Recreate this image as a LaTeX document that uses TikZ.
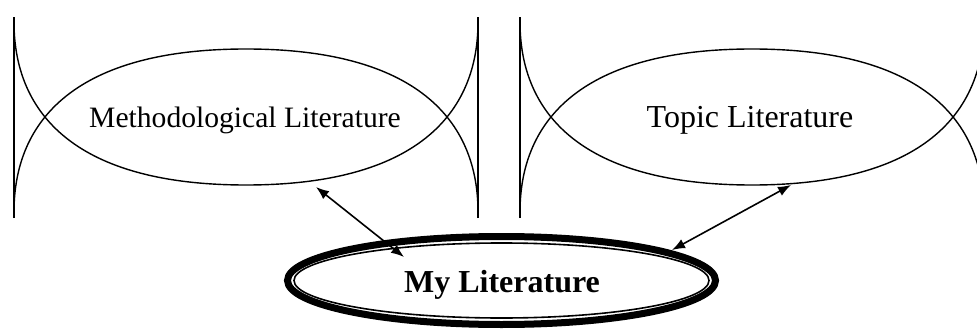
\documentclass[tikz,border=0pt]{standalone}
\usepackage{fontspec}
\setmainfont{Liberation Serif}
\usetikzlibrary{arrows.meta}

\begin{document}
\begin{tikzpicture}[x=0.5pt,y=0.5pt,
    lens/.style={line width=0.7pt},
    link/.style={{Latex[length=6.5pt,width=5pt]}-{Latex[length=6.5pt,width=5pt]}, line width=0.8pt},
    littext/.style={font=\fontsize{14.8}{18}\selectfont, anchor=base}]
    \clip (0,0) rectangle (977,332);

    % 1. Methodological Literature: two bars and two crossing arcs
    \draw[lens] (14,114) -- (14,315);
    \draw[lens] (478,114) -- (478,315);
    \draw[lens] (14,120) .. controls (14,212) and (76,283) .. (246,283)
                         .. controls (416,283) and (478,212) .. (478,120);
    \draw[lens] (14,310) .. controls (14,218) and (76,147) .. (246,147)
                         .. controls (416,147) and (478,218) .. (478,310);
    \node[littext] (method) at (245,204) {Methodological Literature};

    % 2. Topic Literature: same shape, cut by the right edge
    \draw[lens] (520,114) -- (520,315);
    \draw[lens] (984,114) -- (984,315);
    \draw[lens] (520,120) .. controls (520,212) and (582,283) .. (752,283)
                          .. controls (922,283) and (984,212) .. (984,120);
    \draw[lens] (520,310) .. controls (520,218) and (582,147) .. (752,147)
                          .. controls (922,147) and (984,218) .. (984,310);
    \node[littext, font=\fontsize{16}{19}\selectfont] (topic) at (750,204) {Topic Literature};

    % 3. My Literature: thick ring with a thin inner line
    \coordinate (ring) at (501.5,51.5);
    \draw[line width=3.5pt] (ring) ellipse [x radius=214, y radius=44];
    \draw[line width=0.8pt] (ring) ellipse [x radius=207.5, y radius=37.5];
    \node[font=\bfseries\fontsize{16}{19}\selectfont, anchor=base] (mine) at (502,40) {My Literature};

    % 4. Links
    \coordinate (methend) at (316,145);
    \coordinate (minel) at (404,75);
    \coordinate (topicend) at (791,147);
    \coordinate (miner) at (672,82);
    \draw[link] (minel) -- (methend);
    \draw[link] (miner) -- (topicend);
\end{tikzpicture}
\end{document}
